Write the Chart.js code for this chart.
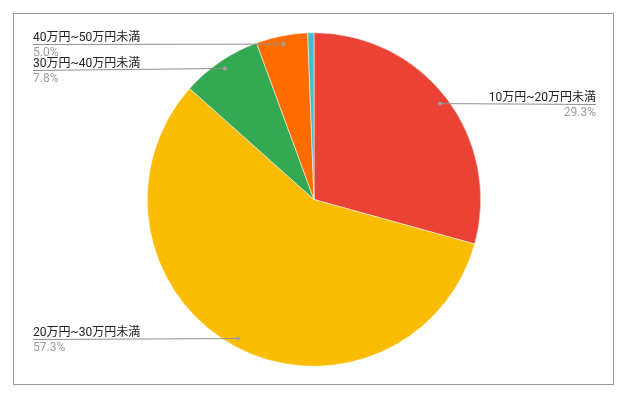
<!DOCTYPE html>
<html>
<head>
<meta charset="utf-8">
<script src="https://cdn.jsdelivr.net/npm/chart.js@4"></script>
<style>
  html, body { margin: 0; padding: 0; background: #fff; }
  #wrap { position: relative; width: 630px; height: 400px; }
</style>
</head>
<body>
<div id="wrap"><canvas id="incomePie" width="630" height="400"></canvas></div>
<script>
const categories = ["10万円~20万円未満", "20万円~30万円未満", "30万円~40万円未満", "40万円~50万円未満", "50万円以上"];
const shares = [29.3, 57.3, 7.8, 5.0, 0.6];
const shareLabels = ["29.3%", "57.3%", "7.8%", "5.0%", ""];
const sliceColors = ["#ea4335", "#fbbc04", "#34a853", "#ff6d01", "#46bdc6"];

const FONT = "12px Roboto, 'Noto Sans CJK JP', sans-serif";

// frame around the chart
const framePlugin = {
  id: "frame",
  beforeDraw(chart) {
    const ctx = chart.ctx;
    ctx.save();
    ctx.strokeStyle = "#9a9a9a";
    ctx.lineWidth = 1;
    ctx.strokeRect(13.5, 13.5, 600, 371);
    ctx.restore();
  },
};

// leader lines with labels, Google Sheets style
const leaderPlugin = {
  id: "leaders",
  afterDatasetsDraw(chart) {
    const ctx = chart.ctx;
    const arcs = chart.getDatasetMeta(0).data;
    const items = [];
    arcs.forEach((arc, i) => {
      if (!shareLabels[i]) return;
      const { x, y, startAngle, endAngle, outerRadius } = arc.getProps(
        ["x", "y", "startAngle", "endAngle", "outerRadius"], true);
      const mid = (startAngle + endAngle) / 2;
      const r = outerRadius * 0.95;
      const px = x + Math.cos(mid) * r;
      const py = y + Math.sin(mid) * r;
      items.push({ i, px, py, lineY: py, right: px > x });
    });

    // keep labels on each side from overlapping
    [true, false].forEach((side) => {
      const list = items.filter((it) => it.right === side).sort((a, b) => a.py - b.py);
      for (let k = 1; k < list.length; k++) {
        if (list[k].lineY - list[k - 1].lineY < 26) list[k].lineY = list[k - 1].lineY + 26;
      }
    });

    ctx.save();
    ctx.font = FONT;
    items.forEach((it) => {
      const lx = it.right ? 596 : 33;
      ctx.strokeStyle = "#8f8f8f";
      ctx.lineWidth = 1;
      ctx.beginPath();
      ctx.moveTo(lx, Math.round(it.lineY) + 0.5);
      ctx.lineTo(it.px, it.py);
      ctx.stroke();

      ctx.fillStyle = "#9e9e9e";
      ctx.beginPath();
      ctx.arc(it.px, it.py, 2, 0, Math.PI * 2);
      ctx.fill();

      ctx.textAlign = it.right ? "right" : "left";
      ctx.textBaseline = "alphabetic";
      ctx.fillStyle = "#222222";
      ctx.fillText(categories[it.i], lx, it.lineY - 3);
      ctx.fillStyle = "#9e9e9e";
      ctx.fillText(shareLabels[it.i], lx, it.lineY + 12);
    });
    ctx.restore();
  },
};

new Chart(document.getElementById("incomePie"), {
  type: "pie",
  data: {
    labels: categories,
    datasets: [
      {
        data: shares,
        backgroundColor: sliceColors,
        borderColor: "#ffffff",
        borderWidth: 0.5,
      },
    ],
  },
  options: {
    responsive: false,
    animation: false,
    layout: { padding: { left: 147, right: 149, top: 32.5, bottom: 33.5 } },
    plugins: {
      legend: { display: false },
      tooltip: { enabled: false },
    },
  },
  plugins: [framePlugin, leaderPlugin],
});
</script>
</body>
</html>
